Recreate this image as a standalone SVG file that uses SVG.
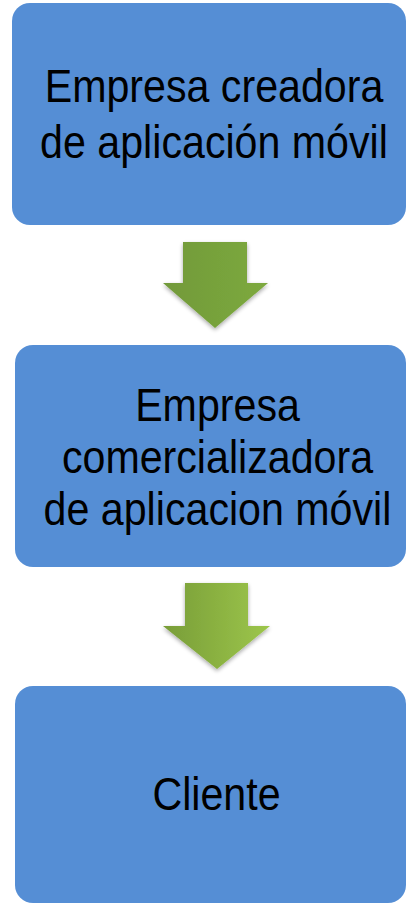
<svg xmlns="http://www.w3.org/2000/svg" width="406" height="904" viewBox="0 0 406 904">
<style>
.box{fill:#558ED5;}
.lbl{font-family:"Liberation Sans",Arial,sans-serif;font-size:46px;fill:#000;text-anchor:middle;}
</style>
<defs>
<linearGradient id="g1" x1="0" y1="0" x2="1" y2="0">
<stop offset="0" stop-color="#72993A"/>
<stop offset="0.5" stop-color="#77A23B"/>
<stop offset="1" stop-color="#7DA93F"/>
</linearGradient>
<linearGradient id="g2" x1="0" y1="0" x2="1" y2="0">
<stop offset="0" stop-color="#789D38"/>
<stop offset="1" stop-color="#9DC64B"/>
</linearGradient>
<filter id="sh" x="-20%" y="-20%" width="140%" height="140%">
<feGaussianBlur in="SourceAlpha" stdDeviation="2"/>
<feOffset dx="0" dy="2" result="b"/>
<feComponentTransfer><feFuncA type="linear" slope="0.35"/></feComponentTransfer>
<feMerge><feMergeNode/><feMergeNode in="SourceGraphic"/></feMerge>
</filter>
</defs>
<g id="node1">
<rect class="box" x="12" y="3" width="394" height="222" rx="18"/>
<g transform="translate(214,0) scale(0.895,1)">
<text class="lbl" x="0" y="102">Empresa creadora</text>
<text class="lbl" x="0" y="158">de aplicación móvil</text>
</g>
</g>
<g id="node2">
<rect class="box" x="15" y="345" width="391" height="222" rx="18"/>
<g transform="translate(217.5,0) scale(0.895,1)">
<text class="lbl" x="0" y="421">Empresa</text>
<text class="lbl" x="0" y="473">comercializadora</text>
<text class="lbl" x="0" y="525">de aplicacion móvil</text>
</g>
</g>
<g id="node3">
<rect class="box" x="15" y="686" width="391" height="217" rx="18"/>
<g transform="translate(216.5,0) scale(0.895,1)">
<text class="lbl" x="0" y="810">Cliente</text>
</g>
</g>
<g id="connectors">
<polygon fill="url(#g1)" filter="url(#sh)" points="183,242 247,242 247,283 268,283 215,328 163,283 183,283"/>
<polygon fill="url(#g2)" filter="url(#sh)" points="185,583 248,583 248,626 270,626 217,669 163,626 185,626"/>
</g>
</svg>
